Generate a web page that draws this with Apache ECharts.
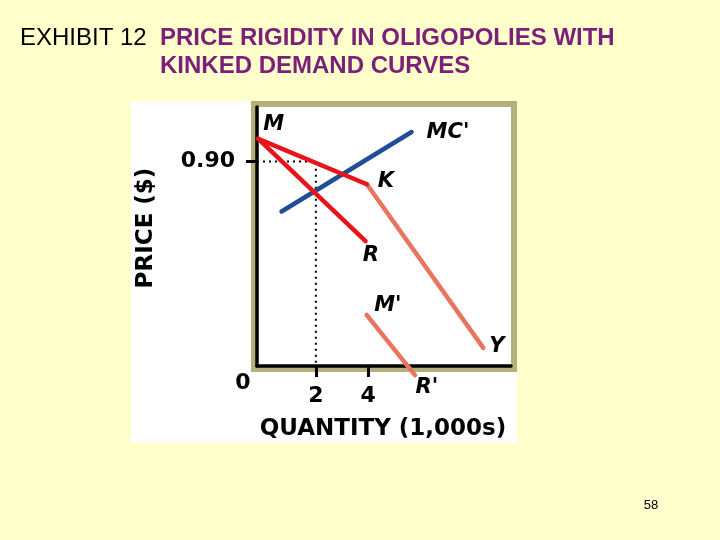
<!DOCTYPE html>
<html>
<head>
<meta charset="utf-8">
<script src="https://cdn.jsdelivr.net/npm/echarts@6/dist/echarts.min.js"></script>
<style>
  html, body { margin: 0; padding: 0; background: #ffffcc; }
  #chart { width: 720px; height: 540px; }
</style>
</head>
<body>
<div id="chart"></div>
<script>
// axis ticks
const xTicks = [2, 4];
const yTicks = [0.9];
const originLabel = '0';

// curves, [quantity (1,000s), price ($)]
const demandMK = [[-0.2, 1.0], [3.95, 0.8]];
const demandKY = [[3.95, 0.8], [8.4, 0.08]];
const mrMR = [[-0.2, 1.0], [3.9, 0.55]];
const mrMpRp = [[3.94, 0.225], [5.79, -0.04]];
const mcLine = [[0.69, 0.68], [5.66, 1.03]];
const guide = [[-0.25, 0.9], [2, 0.9], [2, 0]];

// point labels
const pointNames = ['M', "MC'", 'K', 'R', "M'", 'Y', "R'"];
const pointPos = [[0.39, 1.063], [7.05, 1.028], [4.68, 0.812], [4.1, 0.485], [4.75, 0.265], [8.92, 0.084], [6.24, -0.093]];

const RED = '#e8141c';
const ORANGE = '#e8765e';
const BLUE = '#1f4e96';
const OLIVE = '#b4b07c';
const BOLD = 'DejaVu Sans';

let myChart = echarts.init(document.getElementById('chart'));

function curve(data, color, extra) {
  return Object.assign({
    type: 'line',
    data: data,
    symbol: 'none',
    clip: false,
    silent: true,
    lineStyle: { color: color, width: 4.5, cap: 'round' },
    z: 3
  }, extra || {});
}

let option = {
  backgroundColor: '#ffffcc',
  animation: false,
  grid: { left: 257, top: 107, right: 209, bottom: 174 },
  xAxis: {
    type: 'value',
    min: -0.25,
    max: 9.46,
    splitLine: { show: false },
    axisLine: { onZero: false, lineStyle: { color: '#000', width: 3.5 } },
    axisTick: { customValues: xTicks, length: 11, lineStyle: { color: '#000', width: 3 } },
    axisLabel: {
      customValues: xTicks,
      margin: 19,
      color: '#000',
      fontFamily: BOLD,
      fontWeight: 'bold',
      fontSize: 22
    }
  },
  yAxis: {
    type: 'value',
    min: 0,
    max: 1.14,
    splitLine: { show: false },
    axisLine: { onZero: false, lineStyle: { color: '#000', width: 3.5 } },
    axisTick: { customValues: yTicks, length: 11, lineStyle: { color: '#000', width: 3 } },
    axisLabel: {
      customValues: yTicks,
      margin: 22,
      color: '#000',
      fontFamily: BOLD,
      fontWeight: 'bold',
      fontSize: 22,
      formatter: (v) => v.toFixed(2)
    }
  },
  graphic: [
    // white picture area and olive frame
    { type: 'rect', z: -20, shape: { x: 131, y: 101, width: 386, height: 342 }, style: { fill: '#fff' } },
    { type: 'rect', z: -10, shape: { x: 254, y: 104, width: 260, height: 265 }, style: { fill: 'none', stroke: OLIVE, lineWidth: 6 } },
    // titles
    { type: 'text', x: 20, y: 38, style: { text: 'EXHIBIT 12', fill: '#000', font: '24px "Liberation Sans"', textVerticalAlign: 'middle' } },
    { type: 'text', x: 160, y: 38, style: { text: 'PRICE RIGIDITY IN OLIGOPOLIES WITH', fill: '#7b1f79', font: 'bold 24px "Liberation Sans"', textVerticalAlign: 'middle' } },
    { type: 'text', x: 160, y: 66, style: { text: 'KINKED DEMAND CURVES', fill: '#7b1f79', font: 'bold 24px "Liberation Sans"', textVerticalAlign: 'middle' } },
    // axis names
    { type: 'text', x: 146, y: 228, rotation: Math.PI / 2, style: { text: 'PRICE ($)', fill: '#000', font: 'bold 23px "DejaVu Sans"', textAlign: 'center', textVerticalAlign: 'middle' } },
    { type: 'text', x: 383, y: 429, style: { text: 'QUANTITY (1,000s)', fill: '#000', font: 'bold 23px "DejaVu Sans"', textAlign: 'center', textVerticalAlign: 'middle' } },
    { type: 'text', x: 243, y: 383, style: { text: originLabel, fill: '#000', font: 'bold 22px "DejaVu Sans"', textAlign: 'center', textVerticalAlign: 'middle' } },
    // slide number
    { type: 'text', x: 651, y: 505, style: { text: '58', fill: '#000', font: '13px "Liberation Sans"', textAlign: 'center', textVerticalAlign: 'middle' } }
  ],
  series: [
    curve(guide, '#000', { lineStyle: { color: '#000', width: 2, type: [2, 4] }, z: 2 }),
    curve(mcLine, BLUE),
    curve(demandKY, ORANGE),
    curve(mrMpRp, ORANGE),
    curve(mrMR, RED),
    curve(demandMK, RED),
    {
      type: 'scatter',
      symbolSize: 0,
      silent: true,
      clip: false,
      itemStyle: { color: '#000', opacity: 1 },
      data: pointPos.map((p, i) => ({ value: p, name: pointNames[i] })),
      label: {
        show: true,
        position: 'inside',
        formatter: (p) => p.name,
        color: '#000',
        opacity: 1,
        textBorderWidth: 0,
        fontFamily: BOLD,
        fontWeight: 'bold',
        fontStyle: 'italic',
        fontSize: 21
      },
      z: 5
    }
  ]
};

myChart.setOption(option, true);
</script>
</body>
</html>
